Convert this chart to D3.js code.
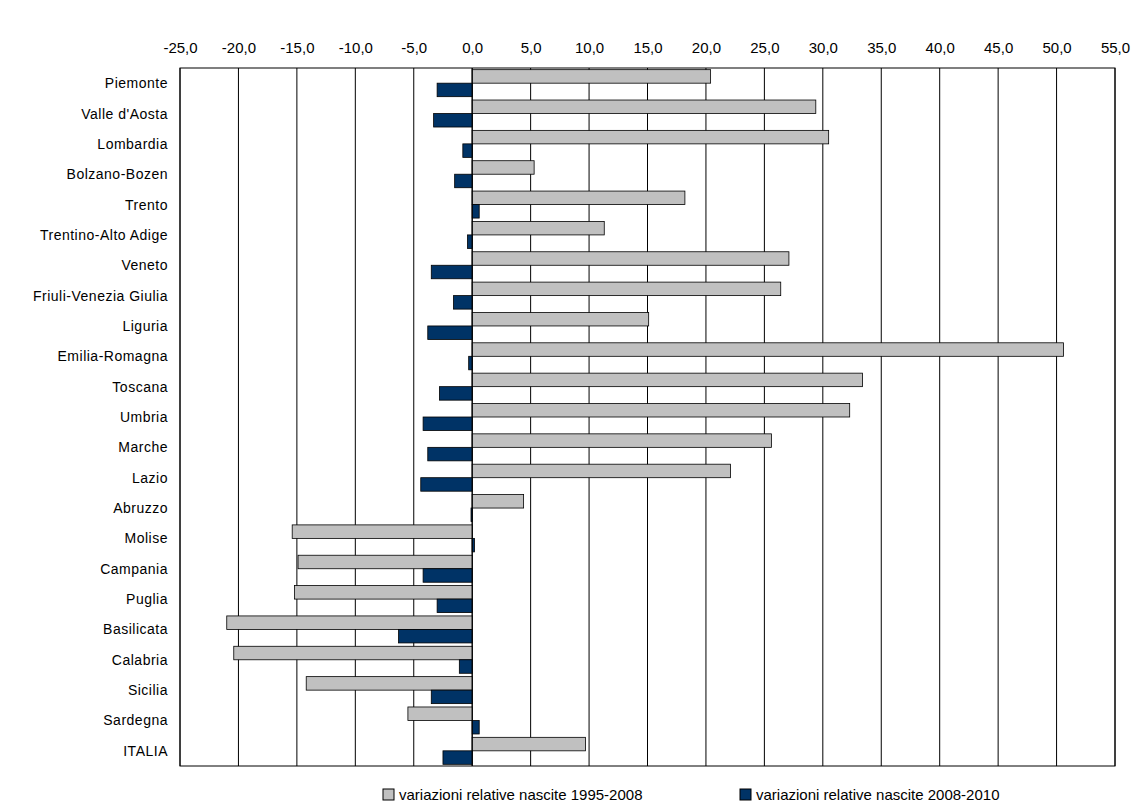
<!DOCTYPE html>
<html><head><meta charset="utf-8">
<script src="https://cdn.jsdelivr.net/npm/d3@7"></script>
<style>body{margin:0;background:#fff}text{font-family:Arial,"Liberation Sans",sans-serif}</style>
</head><body><svg id="c" width="1137" height="809"></svg>
<script>
const categories=["Piemonte","Valle d'Aosta","Lombardia","Bolzano-Bozen","Trento","Trentino-Alto Adige","Veneto","Friuli-Venezia Giulia","Liguria","Emilia-Romagna","Toscana","Umbria","Marche","Lazio","Abruzzo","Molise","Campania","Puglia","Basilicata","Calabria","Sicilia","Sardegna","ITALIA"];
const v1995_2008=[20.4,29.4,30.5,5.3,18.2,11.3,27.1,26.4,15.1,50.6,33.4,32.3,25.6,22.1,4.4,-15.4,-14.9,-15.2,-21.0,-20.4,-14.2,-5.5,9.7];
const v2008_2010=[-3.0,-3.3,-0.8,-1.5,0.6,-0.4,-3.5,-1.6,-3.8,-0.3,-2.8,-4.2,-3.8,-4.4,-0.1,0.2,-4.2,-3.0,-6.3,-1.1,-3.5,0.6,-2.5];
const ticks=d3.range(-25,56,5);
const seriesNames=["variazioni relative nascite 1995-2008","variazioni relative nascite 2008-2010"];
const colors=["#c0c0c0","#003366"];
const svg=d3.select("#c");
const L=180,R=1115,T=68,B=766;
const x=d3.scaleLinear().domain([-25,55]).range([L,R]);
const y=d3.scaleBand().domain(categories).range([T,B]);
const g=svg.append("g");
ticks.forEach(t=>{g.append("line").attr("x1",x(t)).attr("x2",x(t)).attr("y1",T).attr("y2",B).attr("stroke","#000").attr("stroke-width",1);});
g.append("rect").attr("x",L).attr("y",T).attr("width",R-L).attr("height",B-T).attr("fill","none").attr("stroke","#000");
const ax=d3.axisTop(x).tickValues(ticks).tickFormat(d=>d3.format(".1f")(d).replace(".",",").replace("−","-")).tickSize(0).tickPadding(0);
svg.append("g").attr("transform",`translate(0,${T-15})`).call(ax).call(a=>a.select(".domain").remove()).selectAll("text").attr("font-size",15).attr("fill","#000");
const h=13.5;
categories.forEach((c,i)=>{
  const cy=y(c)+y.bandwidth()/2;
  const a=v1995_2008[i],b=v2008_2010[i];
  g.append("rect").attr("x",x(Math.min(0,a))).attr("width",Math.abs(x(a)-x(0))).attr("y",cy-h).attr("height",h).attr("fill",colors[0]).attr("stroke","#000").attr("stroke-width",0.8);
  g.append("rect").attr("x",x(Math.min(0,b))).attr("width",Math.abs(x(b)-x(0))).attr("y",cy).attr("height",h).attr("fill",colors[1]).attr("stroke","#000").attr("stroke-width",0.8);
  svg.append("text").attr("x",L-12).attr("y",cy+5).attr("text-anchor","end").attr("font-size",14).attr("letter-spacing",0.5).text(c);
});
g.append("line").attr("x1",x(0)).attr("x2",x(0)).attr("y1",T).attr("y2",B).attr("stroke","#000");
const lx=[383,740];
seriesNames.forEach((n,i)=>{
  svg.append("rect").attr("x",lx[i]).attr("y",789).attr("width",11).attr("height",11).attr("fill",colors[i]).attr("stroke","#000");
  svg.append("text").attr("x",lx[i]+16).attr("y",800).attr("font-size",15).text(n);
});
</script></body></html>
